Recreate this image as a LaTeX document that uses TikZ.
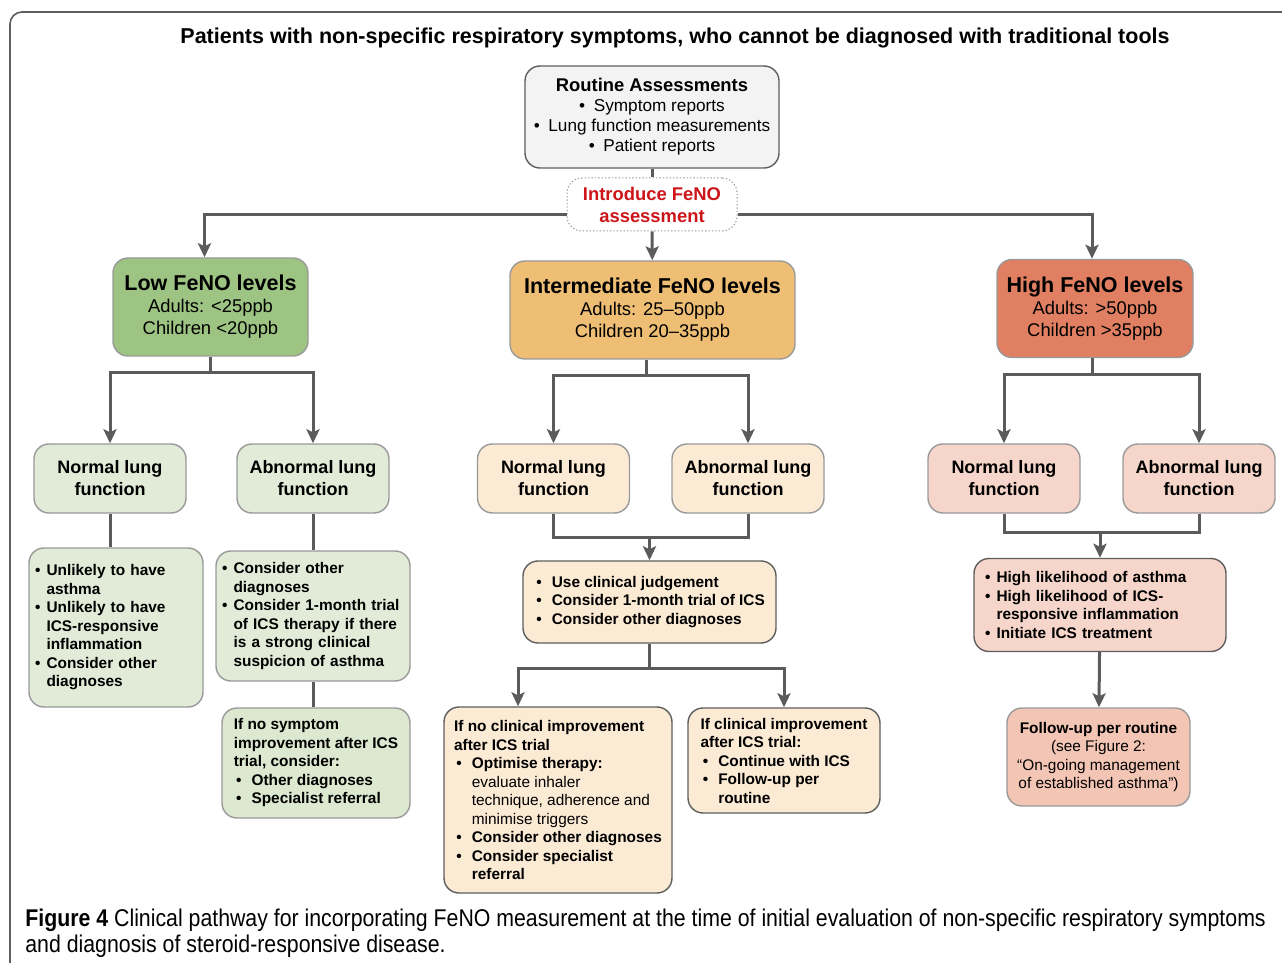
\documentclass[tikz,border=0pt]{standalone}
\usepackage{fontspec}
\setmainfont{Liberation Sans}
\newfontfamily\capfont[FakeStretch=0.88]{Liberation Sans}
\usepackage{tikz}
\usetikzlibrary{positioning, arrows.meta}

\definecolor{lnk}{HTML}{5B5B5B}
\definecolor{edge}{HTML}{999999}
\definecolor{darkedge}{HTML}{5E5E5E}
\definecolor{routinebg}{HTML}{F3F3F3}
\definecolor{lowbg}{HTML}{9DC482}
\definecolor{lowlt}{HTML}{E2EBD8}
\definecolor{lowltb}{HTML}{DCE8CF}
\definecolor{midbg}{HTML}{EEBE74}
\definecolor{midlt}{HTML}{FBEAD4}
\definecolor{highbg}{HTML}{E07F62}
\definecolor{highlt}{HTML}{F6D6CA}
\definecolor{highltb}{HTML}{F3C5B4}
\definecolor{introred}{HTML}{CC1419}

\newcommand\titlesize{\fontsize{10.75}{12}\selectfont\bfseries}
\newcommand\lvlhead{\fontsize{10.75}{12.5}\selectfont\bfseries}
\newcommand\lvlsize{\fontsize{9.2}{11}\selectfont}
\newcommand\lungsize{\fontsize{9}{11}\selectfont\bfseries}
\newcommand\smallsize{\fontsize{7.7}{9.25}\selectfont\bfseries}
\newcommand\bl{\makebox[0.75em][l]{\textbullet}}
\newcommand\ind{\hspace*{0.75em}}
\newcommand\bm{\makebox[1.15em][l]{\hspace{0.15em}\textbullet}}
\newcommand\indm{\hspace*{1.15em}}

\tikzset{
  box/.style={draw=edge, line width=0.7pt, rounded corners=7.5pt, inner sep=0pt, align=center},
  lvl/.style={box, draw=edge, minimum height=49pt, font=\lvlsize},
  lung/.style={box, minimum width=76pt, minimum height=34.5pt, font=\lungsize},
  txt/.style={box, align=left, font=\smallsize},
  conn/.style={draw=lnk, line width=1.5pt},
  arr/.style={conn, -{Stealth[length=7pt, width=6.5pt, inset=1.5pt]}},
}

\begin{document}
\begin{tikzpicture}[x=0.5pt, y=-0.5pt]
    \clip (0,0) rectangle (1282,963);
    \draw[darkedge, line width=0.8pt, rounded corners=6pt] (1300,12) -| (10,990);
    \node[font=\titlesize] (title) at (675,38) {Patients with non-specific respiratory symptoms, who cannot be diagnosed with traditional tools};

    \node[box, draw=darkedge, fill=routinebg, minimum width=127pt, minimum height=51pt, font={\fontsize{8.6}{10}\selectfont}] (routine) at (652,117)
        {{\fontsize{9.2}{10}\selectfont\bfseries Routine Assessments}\\ \textbullet\enspace Symptom reports\\ \textbullet\enspace Lung function measurements\\ \textbullet\enspace Patient reports};
    \node[box, draw=edge, densely dotted, line width=0.5pt, fill=white, minimum width=85pt, minimum height=26.5pt, text=introred, font={\fontsize{9.2}{11}\selectfont\bfseries}] (intro) at (652,204.5)
        {Introduce FeNO\\assessment};

    % FeNO levels
    \node[lvl, fill=lowbg, minimum width=97.5pt] (low) at (210.5,307) {{\lvlhead Low FeNO levels}\\ Adults: <25ppb\\ Children <20ppb};
    \node[lvl, fill=midbg, minimum width=142.5pt] (inter) at (652.5,310) {{\lvlhead Intermediate FeNO levels}\\ Adults: 25–50ppb\\ Children 20–35ppb};
    \node[lvl, fill=highbg, minimum width=98pt] (high) at (1095,308.5) {{\lvlhead High FeNO levels}\\ Adults: >50ppb\\ Children >35ppb};

    \coordinate (split) at (652,215);
    \draw[conn] (routine) -- (intro);
    \draw[arr] (intro.west |- split) -| ([xshift=-3pt]low.north);
    \draw[arr] (intro.east |- split) -| ([xshift=-1.5pt]high.north);
    \draw[arr] (intro) -- (inter);

    % lung function
    \node[lung, fill=lowlt] (lownorm) at (110,478.5) {Normal lung\\function};
    \node[lung, fill=lowlt] (lowabn) at (313,478.5) {Abnormal lung\\function};
    \node[lung, fill=midlt] (midnorm) at (553.5,478.5) {Normal lung\\function};
    \node[lung, fill=midlt] (midabn) at (748,478.5) {Abnormal lung\\function};
    \node[lung, fill=highlt] (highnorm) at (1004,478.5) {Normal lung\\function};
    \node[lung, fill=highlt] (highabn) at (1199,478.5) {Abnormal lung\\function};

    \draw[conn] (low.south) -- ++(0,16) coordinate (lowsplit);
    \draw[arr] (lowsplit) -| (lownorm);
    \draw[arr] (lowsplit) -| (lowabn);
    \draw[conn] ([xshift=-3pt]inter.south) -- ++(0,16) coordinate (midsplit);
    \draw[arr] (midsplit) -| (midnorm);
    \draw[arr] (midsplit) -| (midabn);
    \draw[conn] ([xshift=-1.5pt]high.south) -- ++(0,16) coordinate (highsplit);
    \draw[arr] (highsplit) -| (highnorm);
    \draw[arr] (highsplit) -| (highabn);

    % low branch
    \node[txt, fill=lowlt, minimum width=87pt, minimum height=79.5pt, text width=81pt] (lowtxt) at (116,627.5)
        {\bl Unlikely to have\\\ind asthma\\\bl Unlikely to have\\\ind ICS-responsive\\\ind inflammation\\\bl Consider other\\\ind diagnoses};
    \node[txt, fill=lowlt, minimum width=97pt, minimum height=65pt, text width=91pt] (lowabntxt) at (313,616)
        {\bl Consider other\\\ind diagnoses\\\bl Consider 1-month trial\\\ind of ICS therapy if there\\\ind is a strong clinical\\\ind suspicion of asthma};
    \node[txt, fill=lowltb, minimum width=94pt, minimum height=55pt] (lowfollow) at (316,763)
        {If no symptom\\improvement after ICS\\trial, consider:\\\bm Other diagnoses\\\bm Specialist referral};
    \draw[conn] (lownorm.south) -- (lownorm.south |- lowtxt.north);
    \draw[conn] (lowabn.south) -- (lowabn.south |- lowabntxt.north);
    \draw[conn] (lowabntxt.south) -- (lowabntxt.south |- lowfollow.north);

    % intermediate branch
    \node[txt, draw=darkedge, fill=midlt, minimum width=126.5pt, minimum height=41pt] (judge) at (649.5,602)
        {\bm Use clinical judgement\\\bm Consider 1-month trial of ICS\\\bm Consider other diagnoses};
    \node[txt, draw=darkedge, fill=midlt, minimum width=114pt, minimum height=93pt] (noimp) at (558,800)
        {If no clinical improvement\\after ICS trial\\\bm Optimise therapy:\\\indm{\mdseries evaluate inhaler}\\\indm{\mdseries technique, adherence and}\\\indm{\mdseries minimise triggers}\\\bm Consider other diagnoses\\\bm Consider specialist\\\indm referral};
    \node[txt, draw=darkedge, fill=midlt, minimum width=96pt, minimum height=52.5pt] (imp) at (784,760.5)
        {If clinical improvement\\after ICS trial:\\\bm Continue with ICS\\\bm Follow-up per\\\indm routine};
    \path (judge.north) ++(0,-23) coordinate (midjoin);
    \draw[conn] (midnorm.south) |- (midjoin) -| (midabn.south);
    \draw[arr] (midjoin) -- (judge.north);
    \draw[conn] (judge.south) -- ++(0,25) coordinate (judgesplit);
    \draw[arr] (judgesplit) -| ([xshift=-20pt]noimp.north);
    \draw[arr] (judgesplit) -| (imp.north);

    % high branch
    \node[txt, draw=darkedge, fill=highlt, minimum width=126pt, minimum height=46.5pt, text width=115pt] (likely) at (1100,605)
        {\bl High likelihood of asthma\\\bl High likelihood of ICS-\\\ind responsive inflammation\\\bl Initiate ICS treatment};
    \node[box, fill=highltb, minimum width=91.5pt, minimum height=49pt, font={\fontsize{7.7}{9.25}\selectfont}] (follow) at (1098.5,757)
        {{\bfseries Follow-up per routine}\\(see Figure 2:\\“On-going management\\of established asthma”)};
    \path (likely.north) ++(0,-25) coordinate (highjoin);
    \draw[conn] (highnorm.south) |- (highjoin) -| (highabn.south);
    \draw[arr] (highjoin) -- (likely.north);
    \draw[arr] (likely) -- (follow);

    \node[anchor=north west, inner sep=0pt, align=left, font={\capfont\fontsize{12.1}{13}\selectfont}] (caption) at (25,909)
        {\textbf{Figure 4} Clinical pathway for incorporating FeNO measurement at the time of initial evaluation of non-specific respiratory symptoms\\and diagnosis of steroid-responsive disease.};
\end{tikzpicture}
\end{document}
